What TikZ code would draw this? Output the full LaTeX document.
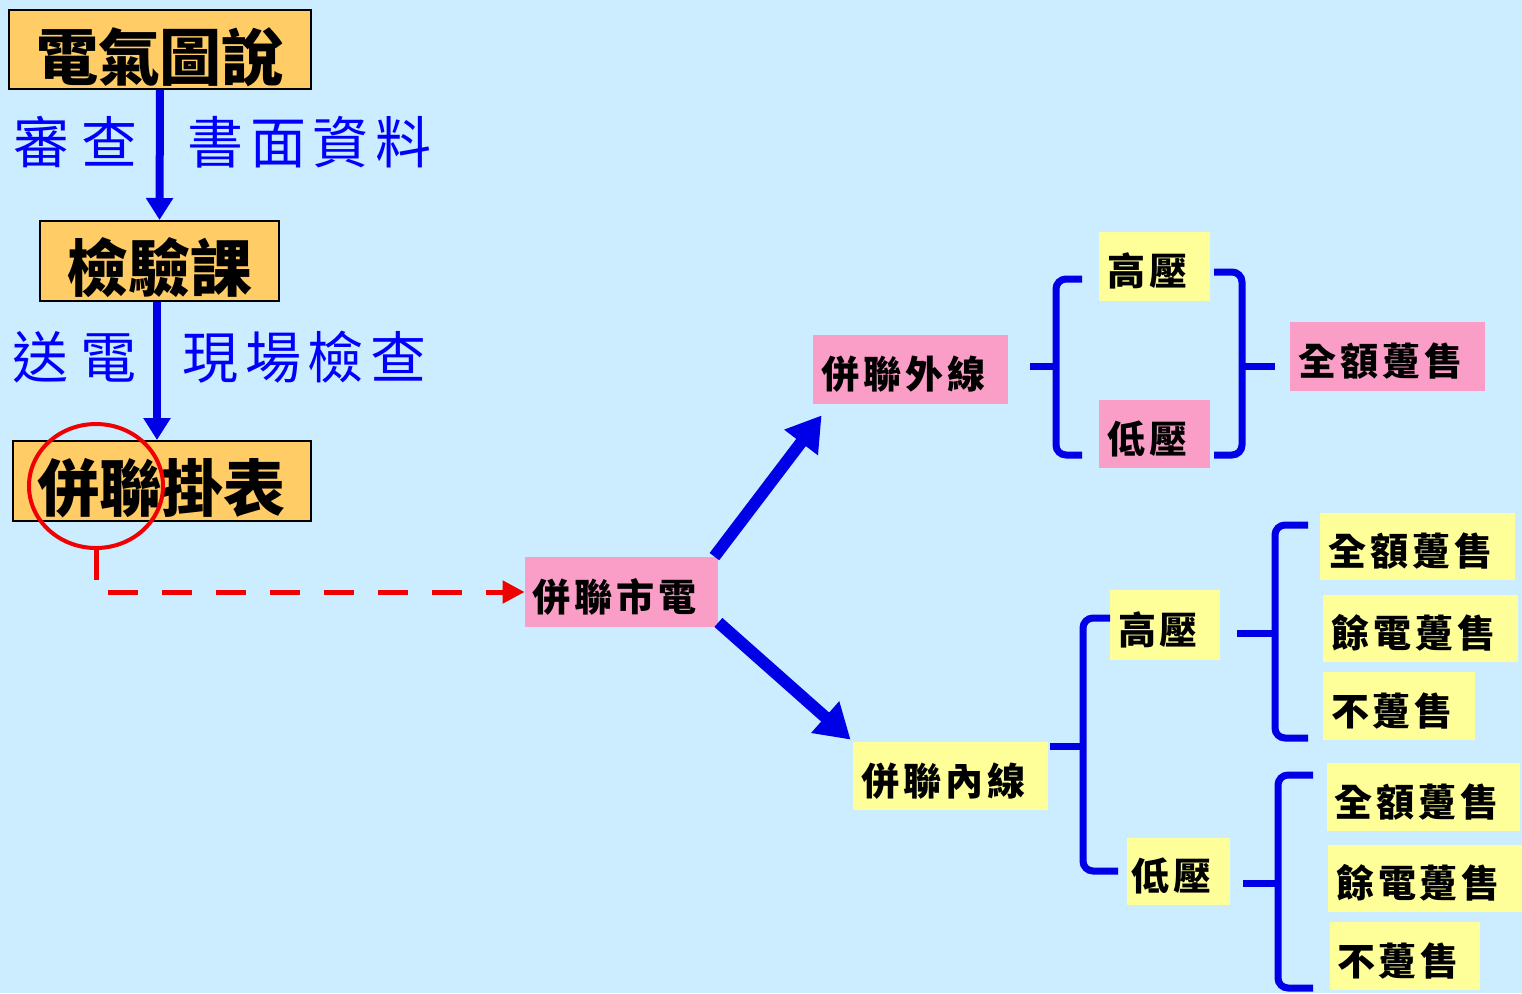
\documentclass[tikz,border=0pt]{standalone}
\usepackage{fontspec}
\usetikzlibrary{arrows.meta,shapes.geometric}
\newfontfamily\cjk{Noto Sans CJK TC}
\newfontfamily\cjkwide{Noto Sans CJK TC}[LetterSpace=22]
\newfontfamily\cjkls{Noto Sans CJK TC}[LetterSpace=12]
\newfontfamily\cjkss{Noto Sans CJK TC}[LetterSpace=10]
\definecolor{bgblue}{RGB}{204,236,255}
\definecolor{boxorange}{RGB}{255,204,102}
\definecolor{boxpink}{RGB}{250,158,200}
\definecolor{boxyellow}{RGB}{255,255,153}
\definecolor{arrblue}{RGB}{0,0,230}
\definecolor{lblblue}{RGB}{0,0,255}
\definecolor{redline}{RGB}{240,0,0}
\tikzset{
  obox/.style={draw=black, line width=1pt, fill=boxorange, inner sep=0pt,
    font=\cjk\bfseries\fontsize{31}{31}\selectfont,
    text height=30.5pt, text depth=0pt},
  lbl/.style={inner sep=0pt, anchor=west, text=lblblue,
    font=\cjkls\fontsize{28}{28}\selectfont},
  lblw/.style={lbl, font=\cjkwide\fontsize{28}{28}\selectfont},
  sbox/.style={inner sep=0pt, font=\cjkss\bfseries\fontsize{19}{19}\selectfont,
    text height=19.4pt, text depth=0pt, execute at end node={\hspace{7pt}}},
  pbox/.style={sbox, fill=boxpink},
  ybox/.style={sbox, fill=boxyellow},
  varrow/.style={draw=arrblue, line width=4pt, -{Triangle[length=11pt,width=13pt]}},
  darrow/.style={draw=arrblue, line width=6pt, -{Triangle[length=17pt,width=20pt]}},
  brk/.style={draw=arrblue, line width=3.5pt, rounded corners=5pt},
  redarrow/.style={draw=redline, line width=2.5pt, dash pattern=on 15pt off 12pt,
    -{Triangle[length=11pt,width=11pt]}}
}
\begin{document}
\begin{tikzpicture}[x=0.5pt,y=-0.5pt]
\fill[bgblue] (0,0) rectangle (1522,993);
\useasboundingbox (0,0) rectangle (1522,993);

% left column
\node[obox, minimum width=151pt, minimum height=39.5pt] (t1) at (160,49.5) {電氣圖說};
\node[obox, minimum width=119.5pt, minimum height=40pt] (t2) at (159.5,261) {檢驗課};
\node[obox, minimum width=149pt, minimum height=40pt] (t3) at (162,481) {併聯掛表};

\draw[varrow] (t1.south) -- (t2.north);
\draw[varrow] (t2.south -| 157,0) -- (t3.north -| 157,0);

\node[lblw] (l1) at (13,142) {審查};
\node[lbl] (l2) at (187,142) {書面資料};
\node[lblw] (l3) at (12,357) {送電};
\node[lbl] (l4) at (182,357) {現場檢查};

\node[draw=redline, line width=2pt, ellipse, minimum width=67pt, minimum height=62pt, inner sep=0pt] (circ) at (96,486) {};

% centre
\node[pbox, minimum width=96.5pt, minimum height=35pt] (grid) at (621.5,592) {併聯市電};
\draw[redarrow] (circ.south) |- (grid.west);

\node[pbox, minimum width=97.5pt, minimum height=34.5pt] (outer) at (910.5,369.5) {併聯外線};
\node[ybox, minimum width=97.5pt, minimum height=34pt] (inner) at (950.5,776) {併聯內線};

\draw[darrow] ([xshift=-2pt]grid.north east) -- ([xshift=4.5pt,yshift=-5.5pt]outer.south west);
\draw[darrow] ([yshift=2.5pt]grid.south east) -- ([xshift=-1pt,yshift=1pt]inner.north west);

% outer branch
\node[ybox, minimum width=55.5pt, minimum height=34.5pt] (ohv) at (1154.5,266.5) {高壓};
\node[pbox, minimum width=55.5pt, minimum height=34pt] (olv) at (1154.5,434) {低壓};
\node[pbox, minimum width=97.5pt, minimum height=34.5pt] (osell) at (1387.5,356.5) {全額躉售};

\coordinate (ob1) at (1030,366);
\coordinate (ob2) at (1275,366);
\draw[brk] (ob1) -- (1056,366);
\draw[brk] (1082,279) -- (1056,279) -- (1056,455) -- (1082,455);
\draw[brk] (1214,272) -- (1242,272) -- (1242,455) -- (1214,455);
\draw[brk] (1242,366) -- (ob2);

% inner branch
\node[ybox, minimum width=55pt, minimum height=35pt] (ihv) at (1165,625) {高壓};
\node[ybox, minimum width=51.5pt, minimum height=33.5pt] (ilv) at (1178.5,871.5) {低壓};

\draw[brk] (1050,746) -- (1083,746);
\draw[brk] (1110,618) -- (1083,618) -- (1083,871) -- (1118,871);

\node[ybox, minimum width=97.5pt, minimum height=33.5pt] (h1) at (1417.5,546.5) {全額躉售};
\node[ybox, minimum width=97.5pt, minimum height=33.5pt] (h2) at (1420.5,628.5) {餘電躉售};
\node[ybox, minimum width=76pt, minimum height=34pt] (h3) at (1399,706) {不躉售};

\draw[brk] (1237,633) -- (1275,633);
\draw[brk] (1308,525) -- (1275,525) -- (1275,738) -- (1308,738);

\node[ybox, minimum width=96.5pt, minimum height=34pt] (k1) at (1423.5,797) {全額躉售};
\node[ybox, minimum width=97pt, minimum height=33.5pt] (k2) at (1425,878.5) {餘電躉售};
\node[ybox, minimum width=75pt, minimum height=34pt] (k3) at (1405,956) {不躉售};

\draw[brk] (1243,883) -- (1278,883);
\draw[brk] (1313,775) -- (1278,775) -- (1278,988) -- (1313,988);
\end{tikzpicture}
\end{document}
